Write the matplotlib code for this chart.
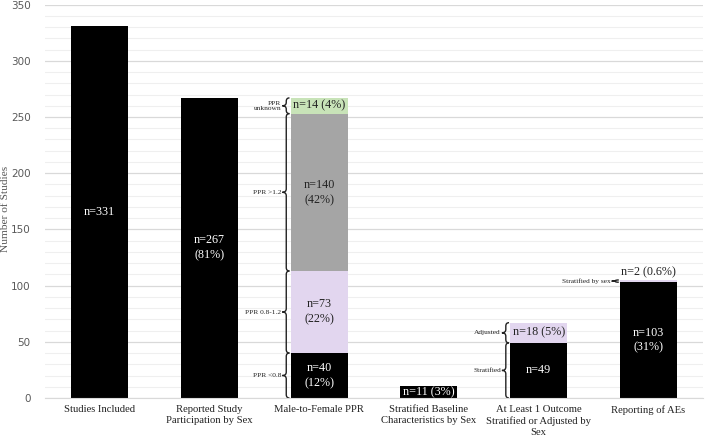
import numpy as np
import matplotlib
matplotlib.use("Agg")
import matplotlib.pyplot as plt
from matplotlib.path import Path
from matplotlib.patches import PathPatch

categories = ["Studies Included", "Reported Study\nParticipation by Sex", "Male-to-Female PPR",
              "Stratified Baseline\nCharacteristics by Sex",
              "At Least 1 Outcome\nStratified or Adjusted by\nSex", "Reporting of AEs"]

# stacked segments per category: (value, colour, label inside, brace label)
segments = [
    [(331, "black", "n=331", None)],
    [(267, "black", "n=267\n(81%)", None)],
    [(40, "black", "n=40\n(12%)", "PPR <0.8"),
     (73, "#e2d6ef", "n=73\n(22%)", "PPR 0.8-1.2"),
     (140, "#a5a5a5", "n=140\n(42%)", "PPR >1.2"),
     (14, "#c8e3b8", "n=14 (4%)", "PPR\nunknown")],
    [(11, "black", "n=11 (3%)", None)],
    [(49, "black", "n=49", "Stratified"),
     (18, "#e2d6ef", "n=18 (5%)", "Adjusted")],
    [(103, "black", "n=103\n(31%)", None),
     (2, "#e2d6ef", "n=2 (0.6%)", "Stratified by sex")],
]

serif = "Liberation Serif"
bar_w = 0.52

fig = plt.figure(figsize=(7.09, 4.40), dpi=100)
ax = fig.add_axes([0.063, 0.0955, 0.929, 0.894])
ax.set_xlim(-0.5, 5.5)
ax.set_ylim(0, 350)

ax.set_yticks(np.arange(0, 351, 50))
ax.set_yticks(np.arange(0, 351, 10), minor=True)
ax.grid(which="major", axis="y", color="#d9d9d9", lw=0.9)
ax.grid(which="minor", axis="y", color="#efefef", lw=0.8)
ax.set_axisbelow(True)
for s in ["top", "right", "left"]:
    ax.spines[s].set_visible(False)
ax.spines["bottom"].set_color("#d9d9d9")
ax.tick_params(axis="y", which="both", length=0, labelsize=7.5, labelcolor="#595959", pad=10)
ax.tick_params(axis="x", length=0, pad=5)
ax.set_xticks(range(len(categories)))
ax.set_xticklabels(categories, fontfamily=serif, fontsize=7.7, color="#222222", linespacing=1.3)
ax.set_ylabel("Number of Studies", fontfamily=serif, fontsize=8.2, color="#555555")
ax.yaxis.set_label_coords(-0.052, 0.48)


def brace(x_right, y0, y1, width=0.065):
    h = y1 - y0
    r = min(3.0, h / 4)
    xm = x_right - width * 0.45
    xl = x_right - width
    ym = (y0 + y1) / 2
    verts = [(x_right, y0), (xm, y0), (xm, y0 + r),
             (xm, ym - r), (xm, ym), (xl, ym),
             (xm, ym), (xm, ym + r),
             (xm, y1 - r), (xm, y1), (x_right, y1)]
    codes = [Path.MOVETO, Path.CURVE3, Path.CURVE3,
             Path.LINETO, Path.CURVE3, Path.CURVE3,
             Path.CURVE3, Path.CURVE3,
             Path.LINETO, Path.CURVE3, Path.CURVE3]
    ax.add_patch(PathPatch(Path(verts, codes), fill=False, lw=1.0, color="#222222"))
    return xl


for i, segs in enumerate(segments):
    bottom = 0
    for val, col, txt, blabel in segs:
        ax.bar(i, val, bottom=bottom, width=bar_w, color=col, edgecolor="none")
        tc = "white" if col == "black" else "#222222"
        if val < 5:
            ax.text(i, bottom + val + 1.5, txt, ha="center", va="bottom",
                    fontfamily=serif, fontsize=8.7, color="#222222")
        else:
            ax.text(i, bottom + val / 2, txt, ha="center", va="center",
                    fontfamily=serif, fontsize=8.7, color=tc, linespacing=1.35)
        if blabel is not None:
            xl = brace(i - bar_w / 2 - 0.01, bottom, bottom + val)
            ax.text(xl - 0.01, bottom + val / 2, blabel, ha="right", va="center",
                    fontfamily=serif, fontsize=5.3, color="#222222", linespacing=1.1)
        bottom += val

fig.savefig("out.png", dpi=100)
